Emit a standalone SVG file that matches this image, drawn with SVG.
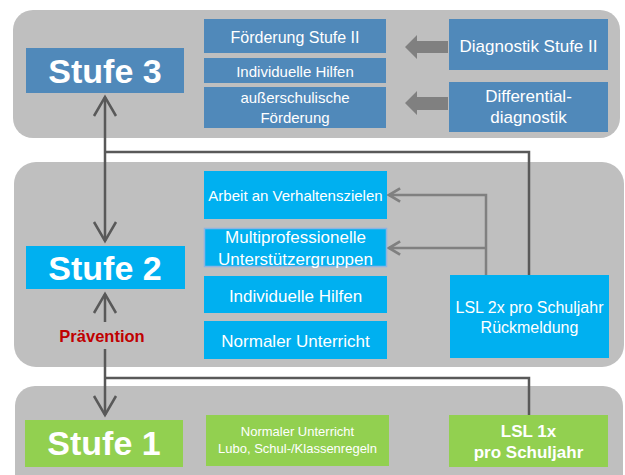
<svg xmlns="http://www.w3.org/2000/svg" width="625" height="475" viewBox="0 0 625 475">
<defs>
<style>
.panel{fill:#BFBFBF}
.dark{fill:#5089BA}
.cyan{fill:#00B0F0}
.green{fill:#92D050}
text{font-family:"Liberation Sans",Arial,sans-serif;fill:#FFFFFF;text-anchor:middle}
.big{font-size:34px;font-weight:bold}
.t15{font-size:15px}
.t16{font-size:16px}
.t17{font-size:17px}
.t13{font-size:13px}
.b17{font-size:17px;font-weight:bold}
.main{fill:none;stroke:#595959;stroke-width:2.5}
.side{fill:none;stroke:#808080;stroke-width:2.5}
.fat{fill:#808080}
</style>
<marker id="bigHead" markerUnits="userSpaceOnUse" markerWidth="30" markerHeight="30" viewBox="-3 -3 28 30" refX="19" refY="11" orient="auto-start-reverse">
<path d="M0,0 L19,11 L0,22" fill="none" stroke="#595959" stroke-width="2.5"/>
</marker>
<marker id="smallHead" markerUnits="userSpaceOnUse" markerWidth="20" markerHeight="20" viewBox="-3 -3 18 18" refX="10" refY="6" orient="auto-start-reverse">
<path d="M0,0 L10,6 L0,12" fill="none" stroke="#808080" stroke-width="2.5"/>
</marker>
</defs>

<rect class="panel" x="13" y="10" width="607" height="128" rx="20"/>
<rect class="panel" x="14" y="162" width="610" height="205" rx="22"/>
<rect class="panel" x="15" y="386" width="608" height="110" rx="20"/>

<g id="connectors">
<path class="main" d="M105,97 V241" marker-start="url(#bigHead)" marker-end="url(#bigHead)"/>
<path class="main" d="M105,152 H529 V275"/>
<path class="main" d="M105,294 V322" marker-start="url(#bigHead)"/>
<path class="main" d="M105,349 V415" marker-end="url(#bigHead)"/>
<path class="main" d="M105,378 H529 V415"/>
<path class="side" d="M486,275 V195 H389" marker-end="url(#smallHead)"/>
<path class="side" d="M486,248 H389" marker-end="url(#smallHead)"/>
<polygon class="fat" points="405,47 417,35 417,41 448,41 448,53 417,53 417,59"/>
<polygon class="fat" points="405,103 417,91 417,97 448,97 448,110 417,110 417,115"/>
</g>

<g id="stufe3">
<rect class="dark" x="26" y="48" width="158" height="45"/>
<text class="big" x="105" y="83">Stufe 3</text>
</g>
<g id="foerderung-stufe2">
<rect class="dark" x="204" y="19" width="182" height="34"/>
<text class="t16" x="295" y="43">Förderung Stufe II</text>
</g>
<g id="indiv-hilfen-3">
<rect class="dark" x="204" y="58" width="182" height="25"/>
<text class="t15" x="295" y="77">Individuelle Hilfen</text>
</g>
<g id="ausserschulisch">
<rect class="dark" x="204" y="87" width="182" height="41"/>
<text class="t15" x="295" y="103">außerschulische</text>
<text class="t15" x="295" y="123">Förderung</text>
</g>
<g id="diagnostik">
<rect class="dark" x="449" y="19" width="159" height="51"/>
<text class="t17" x="528.5" y="52">Diagnostik Stufe II</text>
</g>
<g id="differential">
<rect class="dark" x="449" y="82" width="159" height="50"/>
<text class="t17" x="528.5" y="102">Differential-</text>
<text class="t17" x="528.5" y="123">diagnostik</text>
</g>

<g id="stufe2">
<rect class="cyan" x="26" y="246" width="159" height="43"/>
<text class="big" x="105" y="280">Stufe 2</text>
</g>
<g id="verhaltensziele">
<rect class="cyan" x="204" y="171" width="183" height="48"/>
<text class="t15" x="295.5" y="201">Arbeit an Verhaltenszielen</text>
</g>
<g id="multiprof">
<rect class="cyan" x="204.5" y="228.5" width="182" height="38" stroke="#8DB4E2" stroke-width="1.5"/>
<text class="t17" x="295.5" y="243">Multiprofessionelle</text>
<text class="t17" x="295.5" y="265">Unterstützergruppen</text>
</g>
<g id="indiv-hilfen-2">
<rect class="cyan" x="204" y="276" width="183" height="37"/>
<text class="t17" x="295.5" y="302">Individuelle Hilfen</text>
</g>
<g id="normaler-2">
<rect class="cyan" x="204" y="321" width="183" height="38"/>
<text class="t17" x="295.5" y="347">Normaler Unterricht</text>
</g>
<g id="lsl2x">
<rect class="cyan" x="450" y="275" width="159" height="83"/>
<text class="t16" x="529.5" y="313">LSL 2x pro Schuljahr</text>
<text class="t16" x="529.5" y="333">Rückmeldung</text>
</g>
<g id="praevention">
<text x="102" y="342" style="font-size:16.5px;font-weight:bold;fill:#C00000">Prävention</text>
</g>

<g id="stufe1">
<rect class="green" x="25" y="420" width="158" height="47"/>
<text class="big" x="104" y="455">Stufe 1</text>
</g>
<g id="normaler-1">
<rect class="green" x="206" y="415" width="183" height="51"/>
<text class="t13" x="297.5" y="436">Normaler Unterricht</text>
<text class="t13" x="297.5" y="453">Lubo, Schul-/Klassenregeln</text>
</g>
<g id="lsl1x">
<rect class="green" x="449" y="415" width="159" height="52"/>
<text class="b17" x="528.5" y="437">LSL 1x</text>
<text class="b17" x="528.5" y="458">pro Schuljahr</text>
</g>
</svg>
